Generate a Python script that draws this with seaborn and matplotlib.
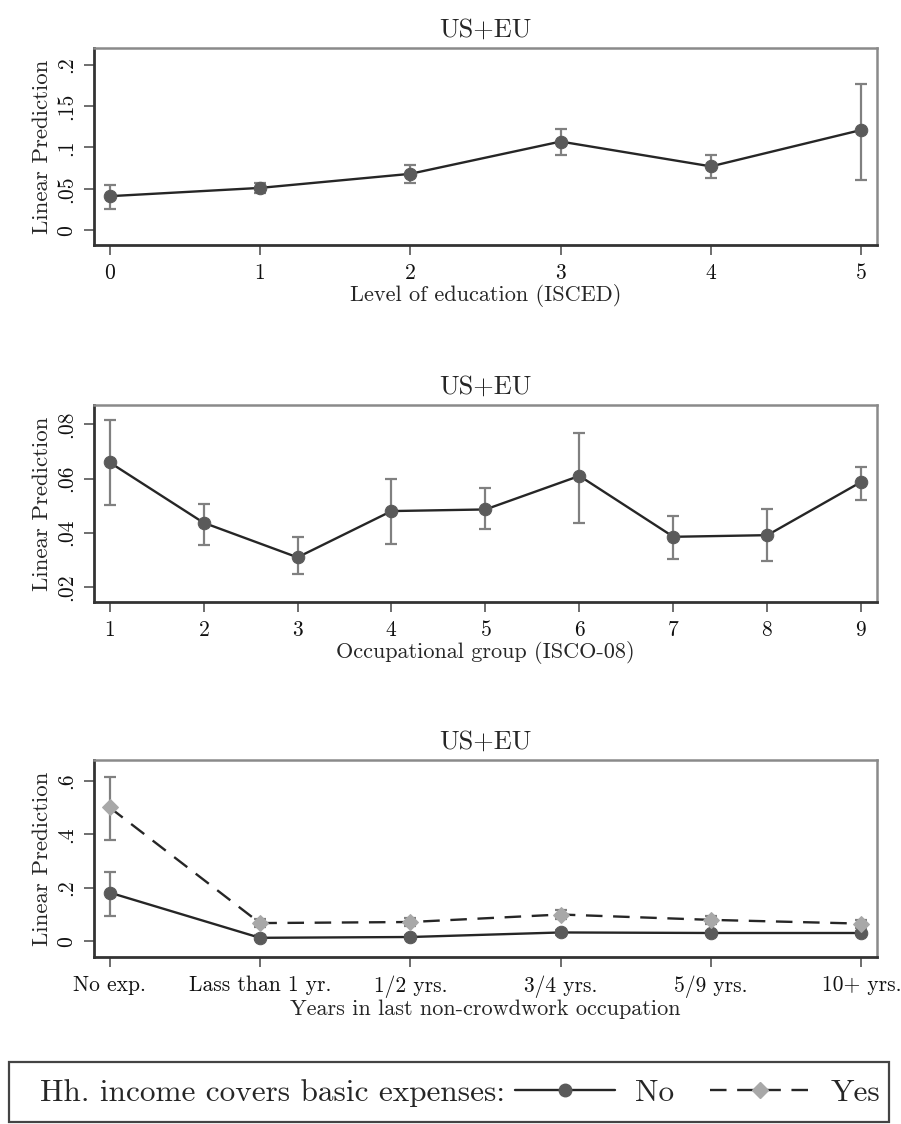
import numpy as np
import matplotlib
matplotlib.use("Agg")
import matplotlib.pyplot as plt
from matplotlib.lines import Line2D
from matplotlib.patches import Rectangle
import seaborn as sns

# Panel 1: level of education (ISCED)
edu_levels = [0, 1, 2, 3, 4, 5]
edu_pred = [0.041, 0.051, 0.068, 0.107, 0.077, 0.121]
edu_lo = [0.026, 0.045, 0.057, 0.091, 0.063, 0.061]
edu_hi = [0.055, 0.057, 0.079, 0.122, 0.091, 0.177]

# Panel 2: occupational group (ISCO-08)
occ_groups = [1, 2, 3, 4, 5, 6, 7, 8, 9]
occ_pred = [0.066, 0.0437, 0.0309, 0.048, 0.0486, 0.061, 0.0385, 0.0391, 0.0588]
occ_lo = [0.0504, 0.0354, 0.0246, 0.0358, 0.0412, 0.0437, 0.0302, 0.0296, 0.0521]
occ_hi = [0.0816, 0.0507, 0.0383, 0.0598, 0.0564, 0.0769, 0.0463, 0.0486, 0.0643]

# Panel 3: years in last non-crowdwork occupation, by income group
exp_labels = ["No exp.", "Lass than 1 yr.", "1/2 yrs.", "3/4 yrs.", "5/9 yrs.", "10+ yrs."]
no_pred = [0.182, 0.013, 0.016, 0.033, 0.031, 0.031]
no_lo = [0.096, 0.004, 0.007, 0.024, 0.023, 0.024]
no_hi = [0.258, 0.022, 0.025, 0.042, 0.039, 0.038]
yes_pred = [0.50, 0.068, 0.072, 0.100, 0.080, 0.066]
yes_lo = [0.378, 0.052, 0.056, 0.082, 0.064, 0.051]
yes_hi = [0.615, 0.084, 0.088, 0.118, 0.096, 0.081]

sns.set_style("ticks")
plt.rcParams["font.family"] = ["cmr10", "DejaVu Serif"]
plt.rcParams["axes.formatter.use_mathtext"] = True

LINE = "#262626"
DARK = "#5a5a5a"
LIGHT = "#a8a8a8"
ERR = "#808080"
DASH = (0, (7, 4.5))
FS = 15.5


def draw_series(ax, x, y, lo, hi, marker, mcolor, ls, ms=9):
    y = np.asarray(y)
    yerr = [y - np.asarray(lo), np.asarray(hi) - y]
    ax.errorbar(x, y, yerr=yerr, fmt="none", ecolor=ERR, elinewidth=1.6,
                capsize=4.5, capthick=1.6, zorder=2)
    sns.lineplot(x=x, y=y, ax=ax, color=LINE, lw=1.7, linestyle=ls,
                 marker=marker, markersize=ms, markerfacecolor=mcolor,
                 markeredgecolor=mcolor, zorder=3)


def style_axes(ax, yticks, ylabels, ylim, xlim, xlabel):
    ax.set_ylim(*ylim)
    ax.set_xlim(*xlim)
    ax.set_yticks(yticks)
    ax.set_yticklabels(ylabels, rotation=90, va="center", fontsize=FS)
    ax.set_ylabel("Linear Prediction", fontsize=16.5, labelpad=3)
    ax.set_xlabel(xlabel, fontsize=16, labelpad=1)
    ax.set_title("US+EU", fontsize=19, pad=8)
    for side in ("left", "bottom"):
        ax.spines[side].set_color("#333333")
        ax.spines[side].set_linewidth(2.0)
    for side in ("top", "right"):
        ax.spines[side].set_color("#8a8a8a")
        ax.spines[side].set_linewidth(1.8)
    ax.tick_params(axis="both", colors="#555555", length=7, width=1.2,
                   labelcolor="#111111")
    ax.tick_params(axis="x", labelsize=FS, pad=6)
    ax.tick_params(axis="y", pad=6)


fig = plt.figure(figsize=(9.01, 11.24), dpi=100)

ax1 = fig.add_axes([0.1043, 0.782, 0.869, 0.1753])
draw_series(ax1, edu_levels, edu_pred, edu_lo, edu_hi, "o", DARK, "-")
ax1.set_xticks(edu_levels)
style_axes(ax1, [0, 0.05, 0.1, 0.15, 0.2], ["0", ".05", ".1", ".15", ".2"],
           (-0.018, 0.22), (-0.104, 5.104), "Level of education (ISCED)")

ax2 = fig.add_axes([0.1043, 0.4644, 0.869, 0.1753])
draw_series(ax2, occ_groups, occ_pred, occ_lo, occ_hi, "o", DARK, "-")
ax2.set_xticks(occ_groups)
style_axes(ax2, [0.02, 0.04, 0.06, 0.08], [".02", ".04", ".06", ".08"],
           (0.0144, 0.0872), (0.834, 9.166), "Occupational group (ISCO-08)")

ax3 = fig.add_axes([0.1043, 0.1485, 0.869, 0.1753])
xpos = list(range(len(exp_labels)))
draw_series(ax3, xpos, no_pred, no_lo, no_hi, "o", DARK, "-")
draw_series(ax3, xpos, yes_pred, yes_lo, yes_hi, "D", LIGHT, DASH, ms=8.5)
ax3.set_xticks(xpos)
ax3.set_xticklabels(exp_labels)
style_axes(ax3, [0, 0.2, 0.4, 0.6], ["0", ".2", ".4", ".6"],
           (-0.059, 0.677), (-0.104, 5.104),
           "Years in last non-crowdwork occupation")

# legend box along the bottom
fig.add_artist(Rectangle((0.01, 0.002), 0.977, 0.053, transform=fig.transFigure,
                         fill=False, edgecolor="#444444", lw=1.6))
fig.text(0.0444, 0.0276, "Hh. income covers basic expenses:", fontsize=22.5,
         va="center", ha="left")
handles = [
    Line2D([0], [0], color=LINE, lw=1.7, marker="o", markersize=9,
           markerfacecolor=DARK, markeredgecolor=DARK),
    Line2D([0], [0], color=LINE, lw=1.7, linestyle=DASH, marker="D",
           markersize=8.5, markerfacecolor=LIGHT, markeredgecolor=LIGHT),
]
fig.legend(handles, ["No", "Yes"], loc="center left", bbox_to_anchor=(0.5716, 0.0276),
           ncol=2, frameon=False, fontsize=22.5, handlelength=3.2, numpoints=1,
           handletextpad=0.65, columnspacing=1.15, borderpad=0, borderaxespad=0)

fig.savefig("out.png", dpi=100)
